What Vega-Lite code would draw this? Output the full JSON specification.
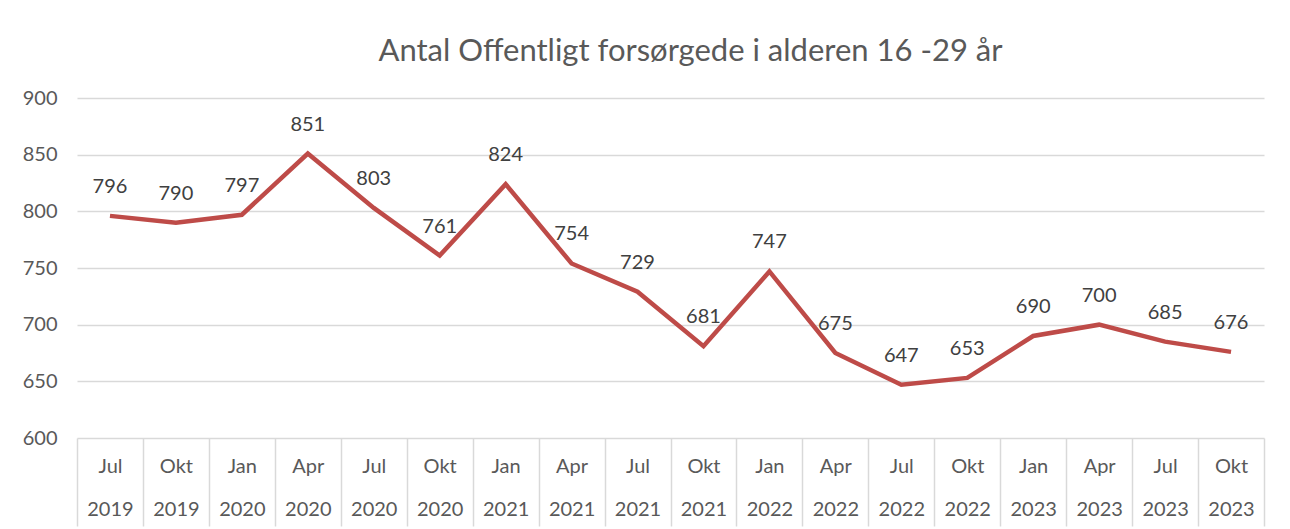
{
  "$schema": "https://vega.github.io/schema/vega-lite/v6.json",
  "autosize": "none",
  "width": 1187,
  "height": 340,
  "padding": {"left": 77, "top": 98, "right": 26, "bottom": 91},
  "background": "white",
  "config": {
    "font": "Lato",
    "view": {"stroke": null}
  },
  "title": {
    "text": "Antal Offentligt forsørgede i alderen 16 -29 år",
    "fontSize": 31,
    "fontWeight": "normal",
    "color": "#595959",
    "anchor": "middle",
    "dx": 20,
    "offset": 20
  },
  "data": {
    "values": [
      {"period": "Jul 2019", "value": 796},
      {"period": "Okt 2019", "value": 790},
      {"period": "Jan 2020", "value": 797},
      {"period": "Apr 2020", "value": 851},
      {"period": "Jul 2020", "value": 803},
      {"period": "Okt 2020", "value": 761},
      {"period": "Jan 2021", "value": 824},
      {"period": "Apr 2021", "value": 754},
      {"period": "Jul 2021", "value": 729},
      {"period": "Okt 2021", "value": 681},
      {"period": "Jan 2022", "value": 747},
      {"period": "Apr 2022", "value": 675},
      {"period": "Jul 2022", "value": 647},
      {"period": "Okt 2022", "value": 653},
      {"period": "Jan 2023", "value": 690},
      {"period": "Apr 2023", "value": 700},
      {"period": "Jul 2023", "value": 685},
      {"period": "Okt 2023", "value": 676}
    ]
  },
  "encoding": {
    "x": {
      "field": "period",
      "type": "nominal",
      "sort": null,
      "scale": {"paddingInner": 0, "paddingOuter": 0},
      "axis": {
        "title": null,
        "labelAngle": 0,
        "labelExpr": "datum.value ? split(datum.value, ' ') : ''",
        "labelLineHeight": 43,
        "labelFontSize": 20,
        "labelColor": "#595959",
        "labelPadding": -60,
        "labelBaseline": "middle",
        "tickBand": "extent",
        "tickSize": 88,
        "tickColor": "#d9d9d9",
        "tickWidth": 1.5,
        "domain": false
      }
    },
    "y": {
      "field": "value",
      "type": "quantitative",
      "scale": {"domain": [600, 900], "nice": false, "zero": false},
      "axis": {
        "title": null,
        "values": [600, 650, 700, 750, 800, 850, 900],
        "labelFontSize": 20,
        "labelColor": "#595959",
        "labelPadding": 20,
        "ticks": false,
        "domain": false,
        "gridColor": "#d9d9d9",
        "gridWidth": 1.5
      }
    }
  },
  "layer": [
    {
      "mark": {"type": "line", "color": "#be4b48", "strokeWidth": 4.5, "strokeJoin": "miter"}
    },
    {
      "mark": {"type": "text", "fontSize": 20, "color": "#404040", "dy": -29, "baseline": "middle"},
      "encoding": {"text": {"field": "value", "type": "quantitative"}}
    }
  ]
}
